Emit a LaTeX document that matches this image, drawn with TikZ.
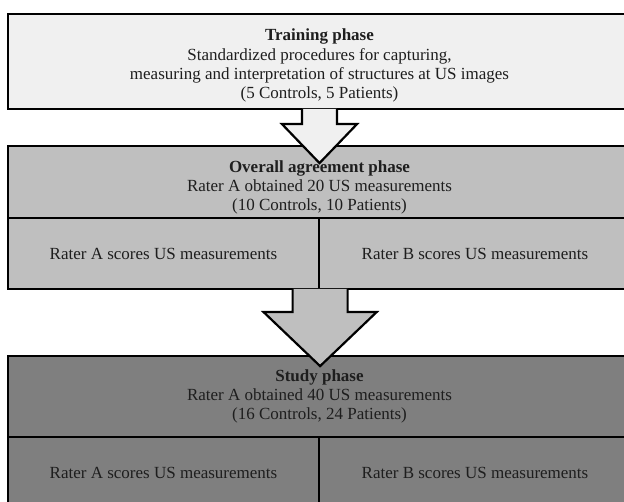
\documentclass[tikz,border=0pt]{standalone}
\usepackage{fontspec}
\setmainfont{Liberation Serif}
\usetikzlibrary{calc}
\definecolor{cTrain}{HTML}{F0F0F0}
\definecolor{cAgree}{HTML}{BFBFBF}
\definecolor{cStudy}{HTML}{7F7F7F}
\definecolor{cText}{HTML}{1E1E1E}
% #1 start point (box bottom), #2 shaft half width, #3 head half width,
% #4 head base offset, #5 tip offset, #6 fill colour
\newcommand\blkarrow[6]{%
  \fill[#6] ($(#1)+(-#2,-1.3)$) -- ($(#1)+(-#2,#4)$) -- ($(#1)+(-#3,#4)$)
    -- ($(#1)+(0,#5)$) -- ($(#1)+(#3,#4)$) -- ($(#1)+(#2,#4)$)
    -- ($(#1)+(#2,-1.3)$) -- cycle;
  \draw[arrowline] ($(#1)+(-#2,-1.1)$) -- ($(#1)+(-#2,#4)$) -- ($(#1)+(-#3,#4)$)
    -- ($(#1)+(0,#5)$) -- ($(#1)+(#3,#4)$) -- ($(#1)+(#2,#4)$)
    -- ($(#1)+(#2,-1.1)$);%
}
\begin{document}
\begin{tikzpicture}[x=1pt,y=-1pt,
  box/.style={draw=black, line width=2.2pt, inner sep=0pt, text=cText,
    font=\fontsize{17}{19.3}\selectfont},
  txt/.style={text=cText, font=\fontsize{17}{19.3}\selectfont, align=center, inner sep=0pt},
  arrowline/.style={draw=black, line width=2.2pt, line join=miter}]
\useasboundingbox (0,0) rectangle (624,502);
\clip (0,0) rectangle (624,502);
% boxes
\node[box, fill=cTrain, minimum width=623pt, minimum height=95pt] (train) at (319.5,61.5) {};
\node[box, fill=cAgree, minimum width=623pt, minimum height=72pt] (agree) at (319.5,182) {};
\node[box, fill=cAgree, minimum width=311pt, minimum height=71pt] (agreeA) at (163.5,253.5) {Rater A scores US measurements};
\node[box, fill=cAgree, minimum width=312pt, minimum height=71pt] (agreeB) at (475,253.5) {Rater B scores US measurements};
\node[box, fill=cStudy, minimum width=623pt, minimum height=81pt] (study) at (319.5,396.5) {};
\node[box, fill=cStudy, minimum width=311pt, minimum height=72pt] (studyA) at (163.5,473) {Rater A scores US measurements};
\node[box, fill=cStudy, minimum width=312pt, minimum height=72pt] (studyB) at (475,473) {Rater B scores US measurements};
% block arrows
\blkarrow{train.south}{17.5}{37.5}{14}{53}{cTrain}
\blkarrow{agreeA.south east}{27.5}{56.5}{22}{76}{cAgree}
% texts
\node[txt] (trainTxt) at (319.5,65.8) {\textbf{Training phase}\\Standardized procedures for capturing,\\measuring and interpretation of structures at US images\\(5 Controls, 5 Patients)};
\node[txt] (agreeTxt) at (319.5,187.5) {\textbf{Overall agreement phase}\\Rater A obtained 20 US measurements\\(10 Controls, 10 Patients)};
\node[txt] (studyTxt) at (319.5,396.5) {\textbf{Study phase}\\Rater A obtained 40 US measurements\\(16 Controls, 24 Patients)};
\end{tikzpicture}
\end{document}
